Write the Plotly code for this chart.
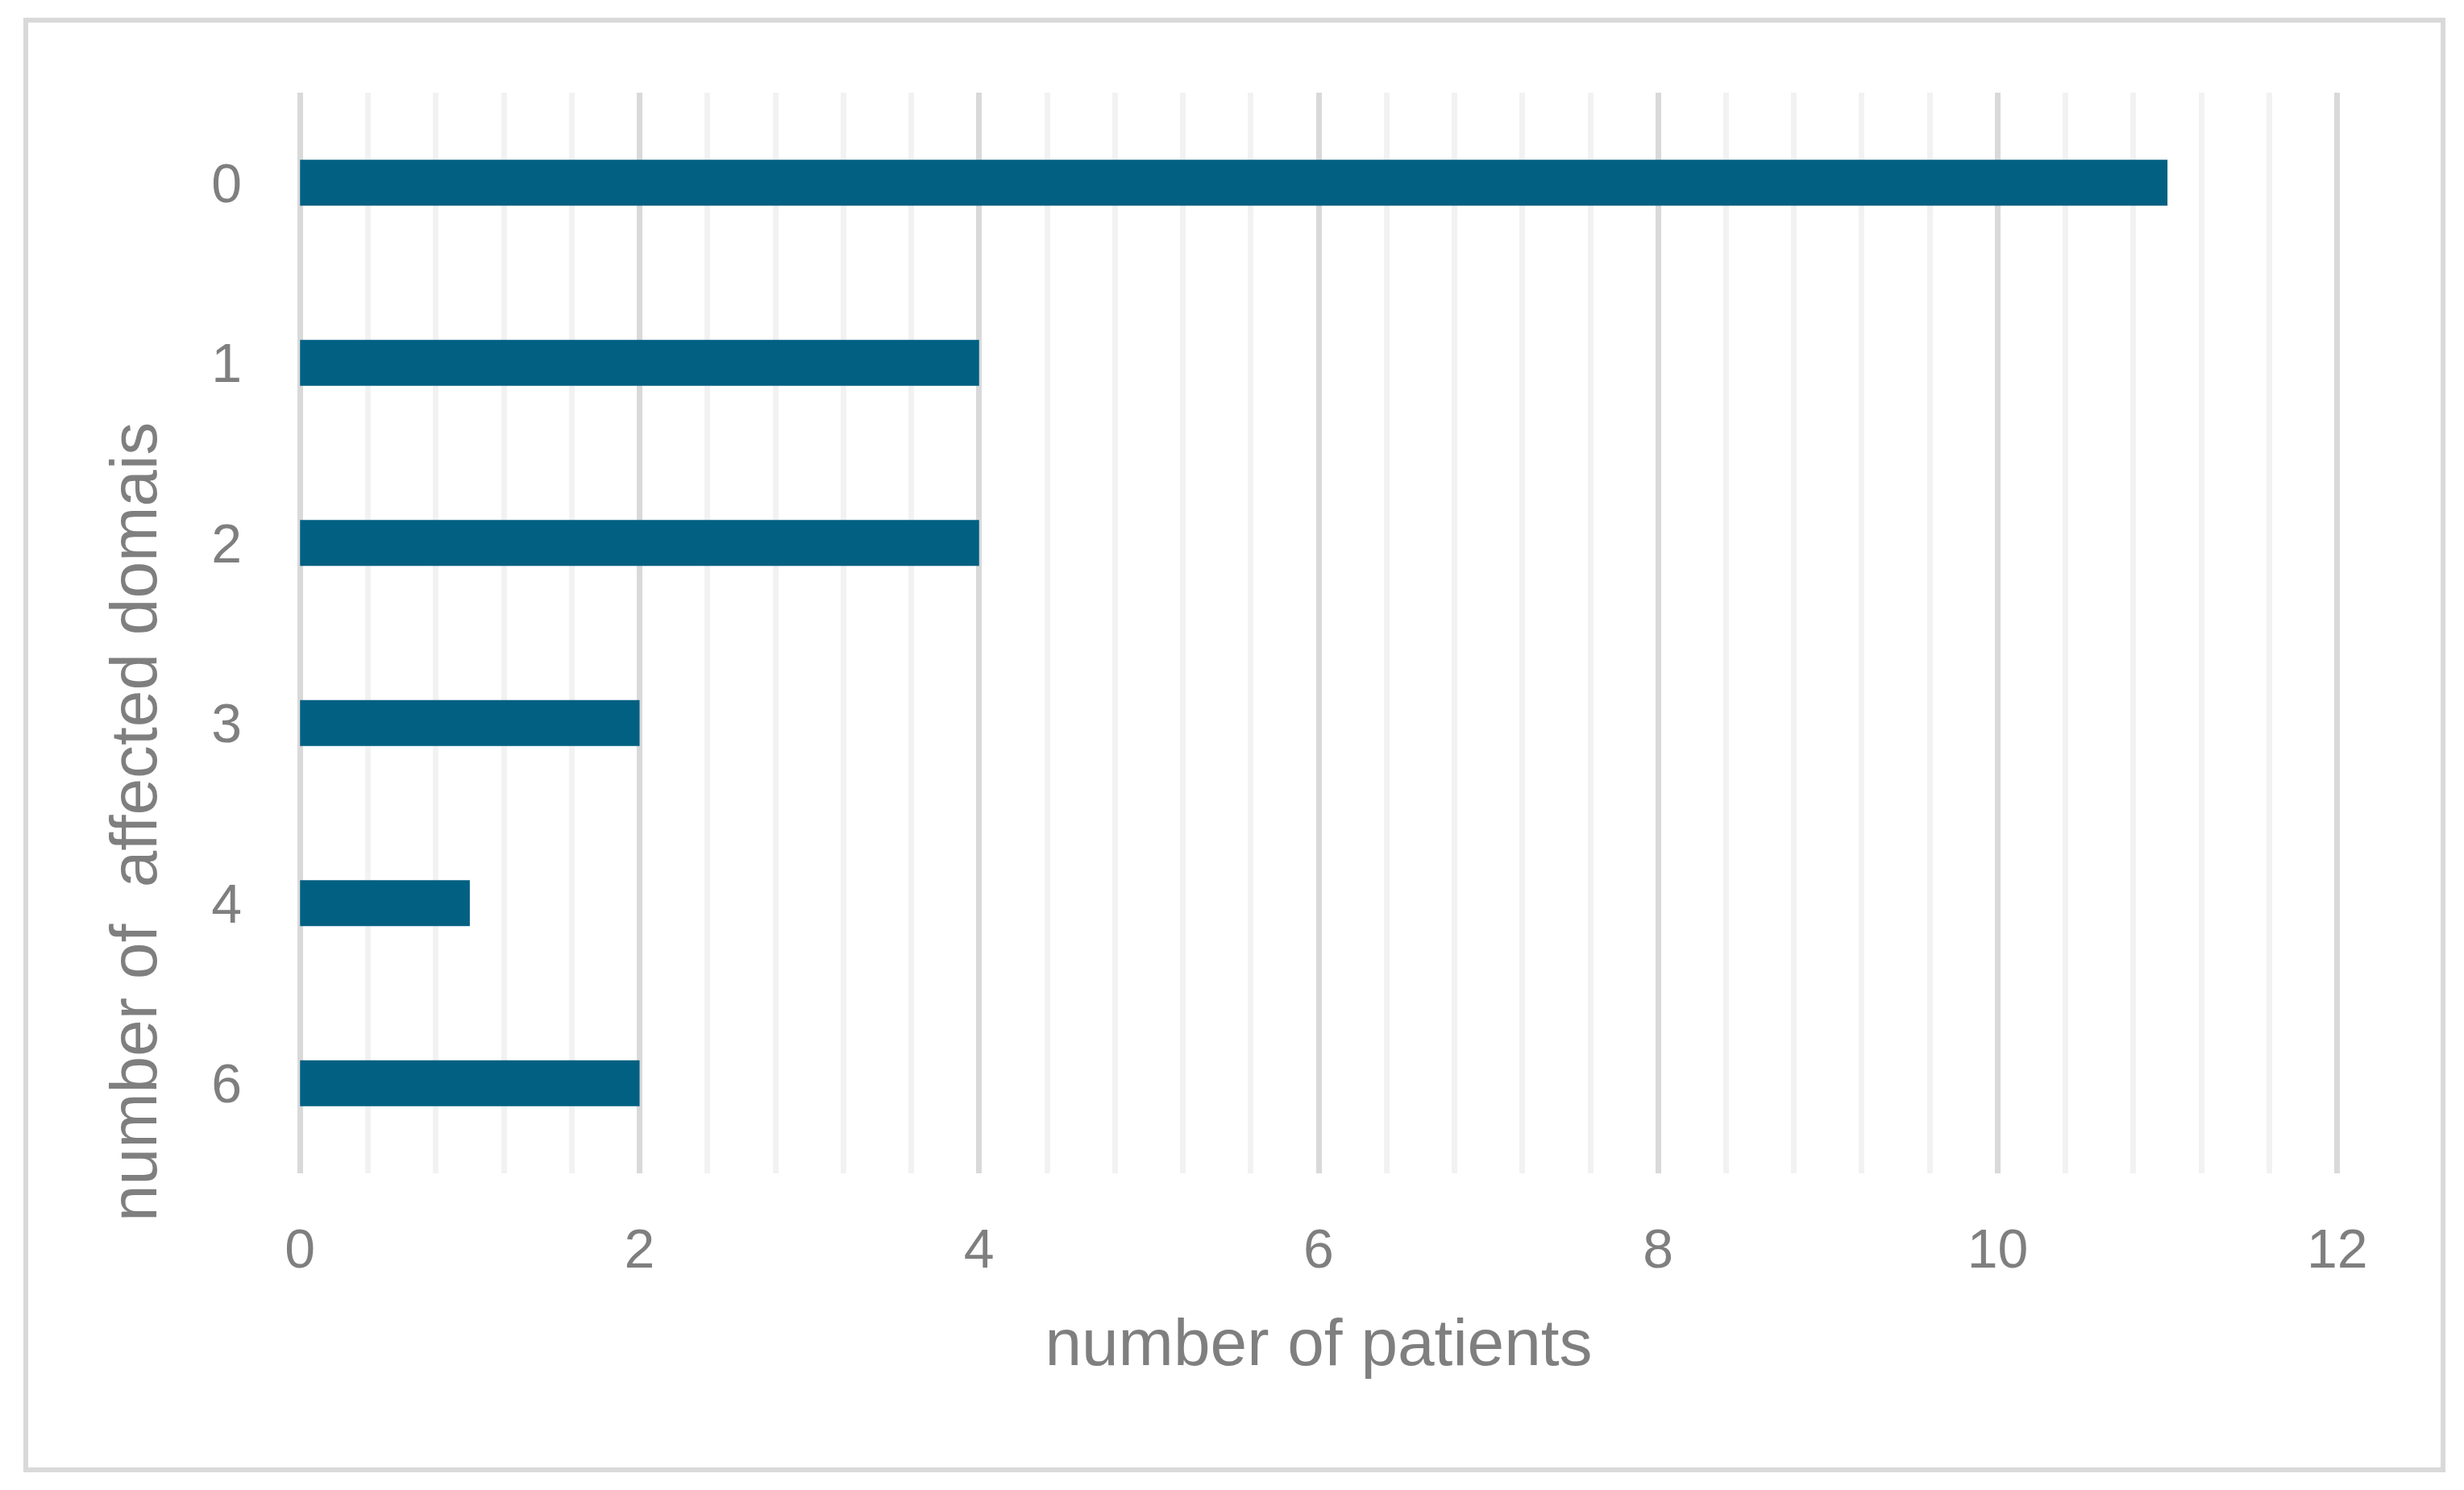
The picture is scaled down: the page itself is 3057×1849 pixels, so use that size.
import plotly.graph_objects as go

# ---- data ----
categories = ["0", "1", "2", "3", "4", "6"]
patients = [11, 4, 4, 2, 1, 2]
x_ticks = [0, 2, 4, 6, 8, 10, 12]
x_title = "number of patients"
y_title = "number of \u00a0affected domais"

# ---- layout constants (pixels) ----
W, H = 3057, 1849
L, R, T, B = 371, 156, 115, 393
PW, PH = W - L - R, H - T - B

GRAY_TXT = "#7f7f7f"
BAR = "#026082"
FONT = "Liberation Sans, Arial, sans-serif"
EPS = 0.006  # tiny range padding so the gridlines at 0 and 12 are drawn


def px_to_paper_x(px):
    return (px - L) / PW


def px_to_paper_y(py):
    return (H - B - py) / PH


fig = go.Figure(
    go.Bar(
        x=patients,
        y=categories,
        orientation="h",
        marker=dict(color=BAR, line=dict(width=0)),
        hoverinfo="x+y",
    )
)

fig.update_layout(
    width=W,
    height=H,
    margin=dict(l=L, r=R, t=T, b=B, pad=0),
    paper_bgcolor="white",
    plot_bgcolor="white",
    bargap=0.745,
    showlegend=False,
    font=dict(family=FONT, color=GRAY_TXT),
    xaxis=dict(
        range=[-EPS, 12 + EPS],
        tickmode="array",
        tickvals=x_ticks,
        ticktext=[str(v) for v in x_ticks],
        showgrid=True,
        gridcolor="#d9d9d9",
        gridwidth=7,
        zeroline=False,
        showline=False,
        ticks="",
        ticklabelstandoff=48,
        tickfont=dict(size=68, color=GRAY_TXT, family=FONT),
        minor=dict(dtick=0.4, tick0=0, showgrid=True, gridcolor="#f2f2f2", gridwidth=7, ticks=""),
        title=dict(text=x_title, font=dict(size=82, color=GRAY_TXT, family=FONT), standoff=50),
    ),
    yaxis=dict(
        type="category",
        categoryorder="array",
        categoryarray=categories,
        autorange="reversed",
        showgrid=False,
        zeroline=False,
        showline=False,
        ticks="",
        ticklabelstandoff=70,
        tickfont=dict(size=68, color=GRAY_TXT, family=FONT),
    ),
    annotations=[
        dict(
            text=y_title,
            textangle=-90,
            xref="paper",
            yref="paper",
            x=px_to_paper_x(165),
            y=px_to_paper_y(1020),
            xanchor="center",
            yanchor="middle",
            showarrow=False,
            font=dict(size=82, color=GRAY_TXT, family=FONT),
        )
    ],
    shapes=[
        dict(
            type="rect",
            xref="paper",
            yref="paper",
            x0=px_to_paper_x(32),
            x1=px_to_paper_x(3031),
            y0=px_to_paper_y(25),
            y1=px_to_paper_y(1824),
            line=dict(color="#d9d9d9", width=6),
            fillcolor="rgba(0,0,0,0)",
            layer="below",
        )
    ],
)

fig.write_html(
    "out.html",
    include_plotlyjs=True,
    config={"displayModeBar": False},
    post_script="document.body.style.margin='0';document.body.style.overflow='hidden';",
)
